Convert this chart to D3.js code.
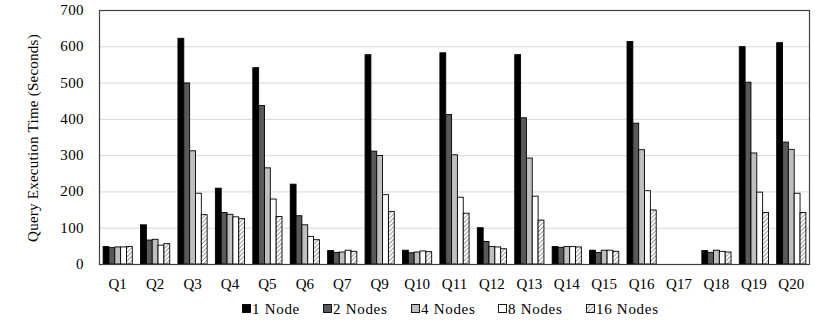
<!DOCTYPE html>
<html>
<head>
<meta charset="utf-8">
<script src="https://cdn.jsdelivr.net/npm/d3@7"></script>
<style>
  html, body { margin: 0; padding: 0; background: #fff; overflow: hidden; }
  svg { display: block; }
  text { font-family: 'Liberation Serif', serif; fill: #000; }
</style>
</head>
<body>
<script>
// * Chart data
const queries = ['Q1', 'Q2', 'Q3', 'Q4', 'Q5', 'Q6', 'Q7', 'Q9', 'Q10', 'Q11',
  'Q12', 'Q13', 'Q14', 'Q15', 'Q16', 'Q17', 'Q18', 'Q19', 'Q20'];
const seriesNames = ['1 Node', '2 Nodes', '4 Nodes', '8 Nodes', '16 Nodes'];
const node1 = [48, 108, 622, 209, 541, 220, 37, 577, 38, 582, 100, 577, 48, 38, 613, 0, 37, 599, 610];
const node2 = [45, 66, 499, 142, 437, 133, 32, 311, 31, 412, 62, 403, 46, 32, 388, 0, 32, 501, 336];
const node4 = [47, 68, 312, 137, 265, 108, 33, 299, 33, 301, 48, 292, 48, 38, 315, 0, 38, 306, 316];
const node8 = [47, 52, 195, 130, 179, 76, 38, 191, 36, 184, 47, 187, 48, 38, 202, 0, 35, 198, 195];
const node16 = [48, 56, 136, 125, 131, 67, 35, 145, 34, 140, 42, 121, 47, 35, 149, 0, 33, 142, 142];
const yTicks = [0, 100, 200, 300, 400, 500, 600, 700];

const seriesValues = [node1, node2, node4, node8, node16];
const fills = ['#000000', '#595959', '#bfbfbf', '#ffffff', 'url(#hatch)'];

// * Sizes
const width = 831;
const height = 326;
const margin = {
  top: 10, right: 21, bottom: 62, left: 99,
};
const innerWidth = width - margin.left - margin.right;
const innerHeight = height - margin.top - margin.bottom;

const svg = d3.select('body')
  .append('svg')
  .attr('width', width)
  .attr('height', height);

// hatch pattern for 16 nodes
const pattern = svg.append('defs')
  .append('pattern')
  .attr('id', 'hatch')
  .attr('patternUnits', 'userSpaceOnUse')
  .attr('width', 3)
  .attr('height', 3)
  .attr('patternTransform', 'rotate(45)');
pattern.append('rect').attr('width', 3).attr('height', 3).attr('fill', '#fff');
pattern.append('line')
  .attr('x1', 0).attr('y1', 0).attr('x2', 0).attr('y2', 3)
  .attr('stroke', '#595959')
  .attr('stroke-width', 1.2);

const x0 = d3.scaleBand()
  .domain(queries)
  .range([margin.left, margin.left + innerWidth])
  .paddingInner(0.22)
  .paddingOuter(0.11);
const x1 = d3.scaleBand()
  .domain(seriesNames)
  .range([0, x0.bandwidth()]);
const y = d3.scaleLinear()
  .domain([0, 700])
  .range([margin.top + innerHeight, margin.top]);

// gridlines
svg.append('g')
  .selectAll('line')
  .data(yTicks.filter((t) => t > 0))
  .enter()
  .append('line')
  .attr('x1', margin.left)
  .attr('x2', margin.left + innerWidth)
  .attr('y1', (d) => y(d) + 0.5)
  .attr('y2', (d) => y(d) + 0.5)
  .attr('stroke', '#d9d9d9')
  .attr('stroke-width', 1);

// bars
const table = queries.map((q, i) => ({ q, vals: seriesValues.map((s, j) => ({ name: seriesNames[j], v: s[i], j })) }));
const groups = svg.selectAll('.group')
  .data(table)
  .enter()
  .append('g')
  .attr('class', 'group')
  .attr('transform', (d) => `translate(${x0(d.q)}, 0)`);
groups.selectAll('rect')
  .data((d) => d.vals.filter((v) => v.v > 0))
  .enter()
  .append('rect')
  .attr('x', (d) => x1(d.name))
  .attr('y', (d) => y(d.v))
  .attr('width', x1.bandwidth())
  .attr('height', (d) => y(0) - y(d.v))
  .attr('fill', (d) => fills[d.j])
  .attr('stroke', '#000')
  .attr('stroke-width', 0.9);

// plot frame
svg.append('rect')
  .attr('x', margin.left + 0.5)
  .attr('y', margin.top + 0.5)
  .attr('width', innerWidth - 1)
  .attr('height', innerHeight)
  .attr('fill', 'none')
  .attr('stroke', '#404040')
  .attr('stroke-width', 1.2);

// y tick labels
svg.append('g')
  .selectAll('text')
  .data(yTicks)
  .enter()
  .append('text')
  .attr('x', margin.left - 15)
  .attr('y', (d) => y(d) + 5)
  .attr('text-anchor', 'end')
  .attr('font-size', 15)
  .attr('letter-spacing', 0.4)
  .text((d) => d);

// x labels
svg.append('g')
  .selectAll('text')
  .data(queries)
  .enter()
  .append('text')
  .attr('x', (d) => x0(d) + x0.bandwidth() / 2)
  .attr('y', y(0) + 25)
  .attr('text-anchor', 'middle')
  .attr('font-size', 15)
  .text((d) => d);

// y title
svg.append('text')
  .attr('transform', `translate(38, ${margin.top + innerHeight / 2 + 1}) rotate(-90)`)
  .attr('text-anchor', 'middle')
  .attr('font-size', 15)
  .attr('letter-spacing', 0.25)
  .text('Query Execution Time (Seconds)');

// legend
const legendX = [242, 323, 411, 498, 586];
const items = svg.append('g')
  .selectAll('g')
  .data(seriesNames)
  .enter()
  .append('g')
  .attr('transform', (d, i) => `translate(${legendX[i]}, 309)`);
items.append('rect')
  .attr('x', 0.5)
  .attr('y', -4.5)
  .attr('width', 8)
  .attr('height', 8)
  .attr('fill', (d, i) => fills[i])
  .attr('stroke', '#000')
  .attr('stroke-width', 0.9);
items.append('text')
  .attr('x', 10)
  .attr('y', 5)
  .attr('font-size', 15)
  .attr('letter-spacing', 0.7)
  .text((d) => d);
</script>
</body>
</html>
